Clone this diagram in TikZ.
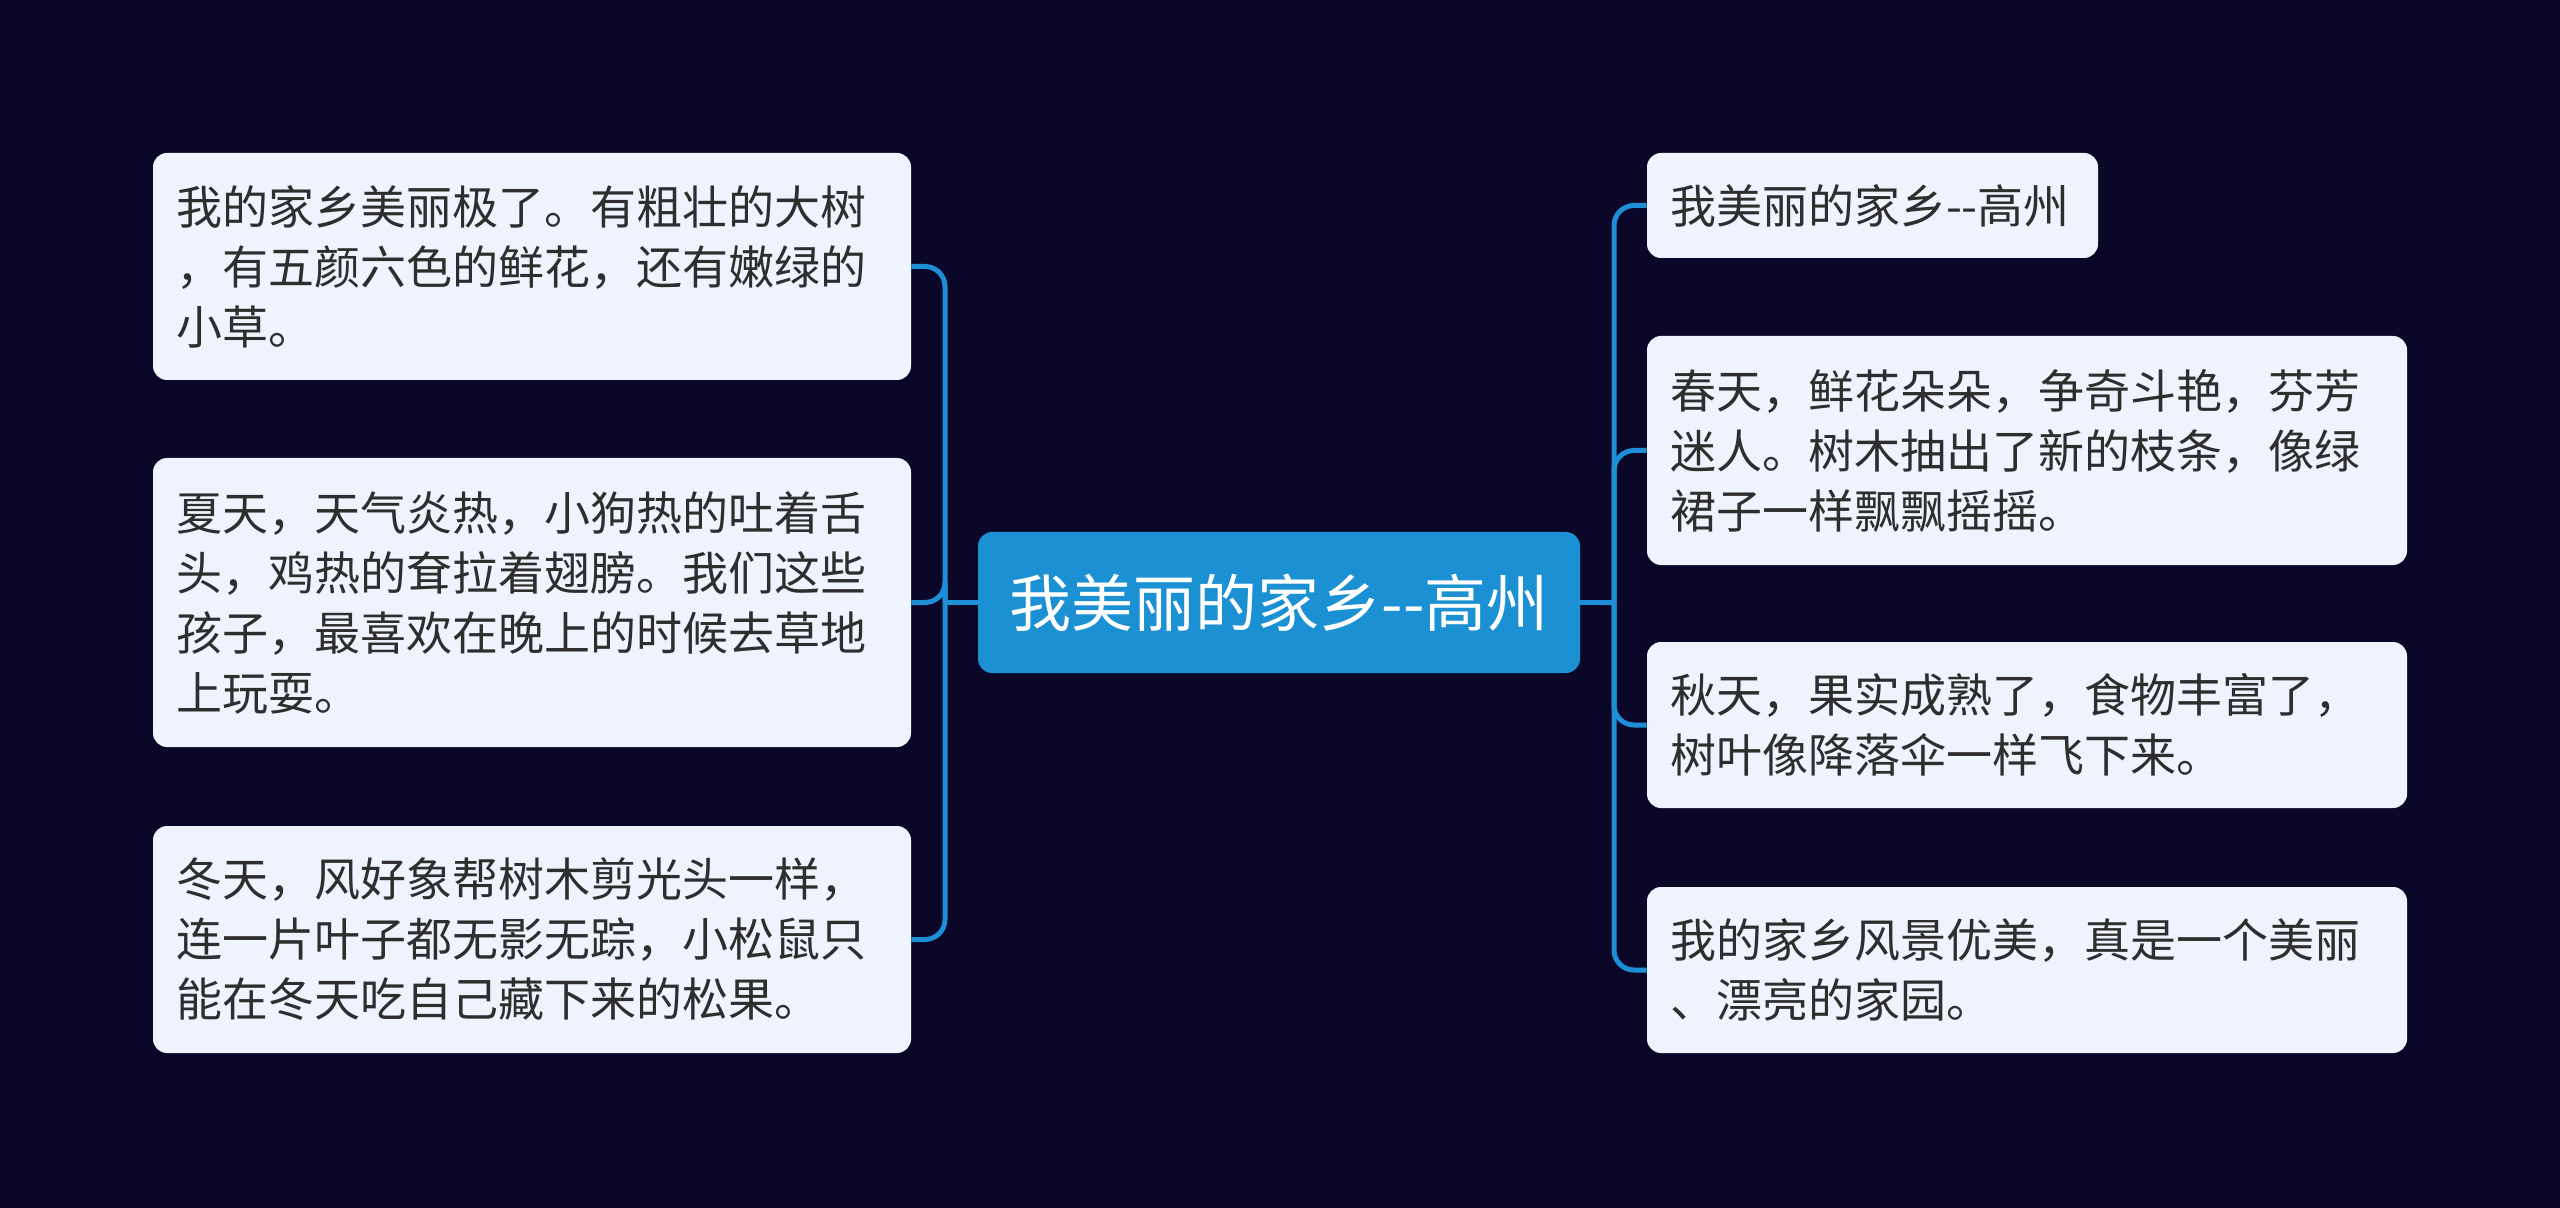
\documentclass[tikz,border=0pt]{standalone}
\usepackage{fontspec}
\setmainfont{Noto Sans CJK SC}
\definecolor{bgNavy}{HTML}{0B0729}
\definecolor{hubBlue}{HTML}{1B91D3}
\definecolor{linkBlue}{HTML}{1E8FD6}
\definecolor{leafFill}{HTML}{EEF3FD}
\definecolor{leafText}{HTML}{2E2E2E}

\begin{document}
\begin{tikzpicture}[x=0.5pt, y=-0.5pt,
  every node/.style={font=\fontsize{23pt}{30pt}\selectfont},
  leaf/.style={fill=leafFill, text=leafText, rounded corners=7pt, align=left,
    inner xsep=11.5pt, inner ysep=0pt, text width=#1},
  hubbox/.style={fill=hubBlue, text=white, rounded corners=7pt, align=center,
    font=\fontsize{31pt}{38pt}\selectfont, minimum width=301pt, minimum height=70.5pt},
  link/.style={draw=linkBlue, line width=2.5pt, rounded corners=10pt}]
  \fill[bgNavy] (0,0) rectangle (2560,1208);
  \useasboundingbox (0,0) rectangle (2560,1208);

  % centre
  \node[hubbox] (hub) at (1279,602.5) {我美丽的家乡-{}-高州};

  % left side
  \node[leaf=356pt, minimum height=113.5pt] (l1) at (532,266.5)
    {我的家乡美丽极了。有粗壮的大树\\，有五颜六色的鲜花，还有嫩绿的\\小草。};
  \node[leaf=356pt, minimum height=144.5pt] (l2) at (532,602.5)
    {夏天，天气炎热，小狗热的吐着舌\\头，鸡热的耷拉着翅膀。我们这些\\孩子，最喜欢在晚上的时候去草地\\上玩耍。};
  \node[leaf=356pt, minimum height=113.5pt] (l3) at (532,939.5)
    {冬天，风好象帮树木剪光头一样，\\连一片叶子都无影无踪，小松鼠只\\能在冬天吃自己藏下来的松果。};

  % right side
  \node[leaf=202.5pt, minimum height=52.5pt] (r1) at (1872.5,205.5)
    {我美丽的家乡-{}-高州};
  \node[leaf=357pt, minimum height=114.5pt] (r2) at (2027,450.5)
    {春天，鲜花朵朵，争奇斗艳，芬芳\\迷人。树木抽出了新的枝条，像绿\\裙子一样飘飘摇摇。};
  \node[leaf=357pt, minimum height=83pt] (r3) at (2027,725)
    {秋天，果实成熟了，食物丰富了，\\树叶像降落伞一样飞下来。};
  \node[leaf=357pt, minimum height=83pt] (r4) at (2027,970)
    {我的家乡风景优美，真是一个美丽\\、漂亮的家园。};

  % connectors
  \coordinate (lbus) at (945,602.5);
  \coordinate (rbus) at (1614,602.5);
  \draw[link] (hub.west) -- (lbus);
  \draw[link] (hub.east) -- (rbus);
  \foreach \n in {l1,l2,l3} \draw[link] (lbus) |- (\n.east);
  \foreach \n in {r1,r2,r3,r4} \draw[link] (rbus) |- (\n.west);
\end{tikzpicture}
\end{document}
